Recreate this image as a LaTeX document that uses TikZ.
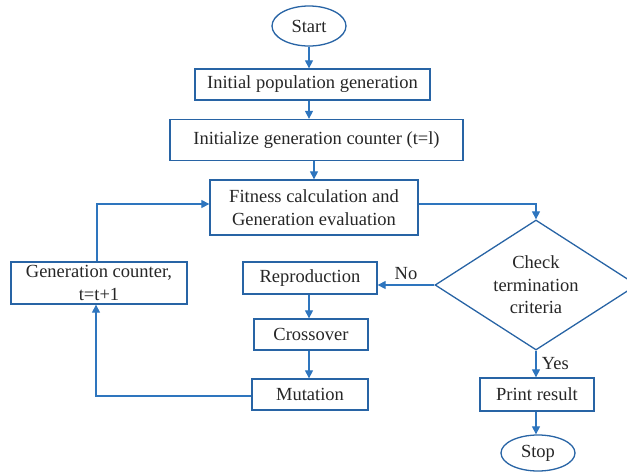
\documentclass[tikz,border=0pt]{standalone}
\usepackage{fontspec}
\setmainfont{Liberation Serif}
\usetikzlibrary{arrows.meta,shapes.geometric}
\definecolor{lineblue}{RGB}{46,117,190}
\definecolor{boxblue}{RGB}{40,100,165}
\begin{document}
\begin{tikzpicture}[x=1pt,y=-1pt,
  every node/.style={font=\fontsize{18.5}{22.5}\selectfont, text=black!85},
  box/.style={draw=boxblue, line width=1.3pt, rectangle, inner sep=0pt},
  oval/.style={draw=boxblue, line width=1.3pt, ellipse, inner sep=0pt},
  conn/.style={draw=lineblue, line width=1.1pt},
  arr/.style={conn, -{Triangle[length=8pt,width=8pt]}},
  lbl/.style={font=\fontsize{18.5}{22.5}\selectfont}]
\useasboundingbox (0,0) rectangle (627,472);
\clip (0,0) rectangle (627,472);
\node[oval, minimum width=74pt, minimum height=40pt] (start) at (309,26) {Start};
\node[box, minimum width=235pt, minimum height=31pt] (init) at (312.5,84.5) {Initial population generation};
\node[box, minimum width=293pt, minimum height=41pt] (cnt) at (316.5,140) {Initialize generation counter (t=l)};
\node[box, minimum width=208pt, minimum height=55pt, align=center] (fit) at (314,207.5) {Fitness calculation and\\Generation evaluation};
\node[draw=boxblue, line width=1.3pt, diamond, aspect=1.55, minimum width=202pt, minimum height=130pt, inner sep=0pt, align=center] (chk) at (536,285) {Check\\termination\\criteria};
\node[box, minimum width=134pt, minimum height=32pt] (rep) at (310,278) {Reproduction};
\node[box, minimum width=114pt, minimum height=31pt] (cross) at (311,334.5) {Crossover};
\node[box, minimum width=116pt, minimum height=31pt] (mut) at (310,394.5) {Mutation};
\node[box, minimum width=176pt, minimum height=42pt, align=center] (gen) at (99,283) {Generation counter,\\t=t+1};
\node[box, minimum width=114pt, minimum height=33pt] (print) at (537,394.5) {Print result};
\node[oval, minimum width=74pt, minimum height=36pt] (stop) at (538,453) {Stop};
\coordinate (c1) at (536,204);
\coordinate (c2) at (96,396);
\coordinate (c3) at (97,204);
\draw[arr] (start.south) -- (start.south |- init.north);
\draw[arr] (init.south -| start.south) -- (start.south |- cnt.north);
\draw[arr] (cnt.south -| fit.north) -- (fit.north);
\draw[arr] (fit.east |- c1) -- (c1) -- (chk.north);
\draw[arr] (chk.west) -- (rep.east |- chk.west) node[lbl, midway, above=1pt] {No};
\draw[arr] (chk.south) -- (chk.south |- print.north) node[lbl, midway, right=2pt] {Yes};
\draw[arr] (print.south -| chk.south) -- (chk.south |- stop.north);
\draw[arr] (rep.south -| 309,0) -- (309,0 |- cross.north);
\draw[arr] (cross.south -| 309,0) -- (309,0 |- mut.north);
\draw[arr] (mut.west |- c2) -- (c2) -- (c2 |- gen.south);
\draw[arr] (c3 |- gen.north) -- (c3) -- (fit.west |- c3);
\end{tikzpicture}
\end{document}
